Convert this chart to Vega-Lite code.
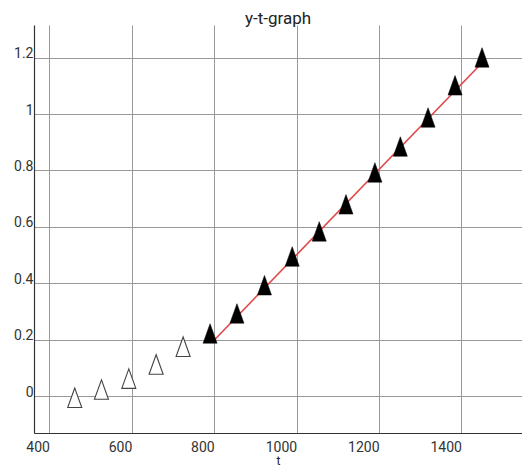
{
  "$schema": "https://vega.github.io/schema/vega-lite/v6.json",
  "autosize": "none",
  "width": 488,
  "height": 408,
  "padding": {"left": 34, "top": 25, "right": 0, "bottom": 33},
  "background": "white",
  "title": {"text": "y-t-graph", "font": "Roboto", "fontSize": 17, "fontWeight": "normal", "color": "#222", "anchor": "middle", "baseline": "alphabetic", "offset": 3, "dy": 19},
  "config": {
    "view": {"stroke": null},
    "axis": {"font": "Roboto", "labelFont": "Roboto", "titleFont": "Roboto", "labelFontSize": 14, "labelColor": "#333", "gridColor": "#999", "gridWidth": 1, "gridOpacity": 1, "domainColor": "#333", "domainWidth": 1.2, "ticks": false, "titleFontWeight": "normal", "titleColor": "#222", "titleFontSize": 12}
  },
  "datasets": {
    "open": [
      {"t": 461.5, "y": -0.006},
      {"t": 526.3, "y": 0.023},
      {"t": 592.7, "y": 0.062},
      {"t": 659, "y": 0.112},
      {"t": 724.5, "y": 0.175}
    ],
    "filled": [
      {"t": 789.9, "y": 0.222},
      {"t": 855.2, "y": 0.293},
      {"t": 922, "y": 0.393},
      {"t": 989.3, "y": 0.495},
      {"t": 1054.9, "y": 0.584},
      {"t": 1119.8, "y": 0.68},
      {"t": 1190, "y": 0.793},
      {"t": 1251.7, "y": 0.885},
      {"t": 1319, "y": 0.988},
      {"t": 1384.5, "y": 1.102},
      {"t": 1450, "y": 1.201}
    ],
    "fit": [
      {"t": 795, "y": 0.191},
      {"t": 1452, "y": 1.185}
    ]
  },
  "layer": [
    {
      "data": {"name": "open"},
      "mark": {"type": "point", "shape": "M0,-1L-0.72,1L0.72,1Z", "size": 380, "filled": true, "fill": "white", "stroke": "#444", "strokeWidth": 1.1, "opacity": 1},
      "encoding": {
        "x": {"field": "t", "type": "quantitative", "scale": {"domain": [362.6, 1547], "nice": false, "zero": false},
              "axis": {"title": "t", "format": "d", "values": [400, 600, 800, 1000, 1200, 1400], "labelAlign": "right", "labelPadding": 7, "titlePadding": 1, "labelFlush": false}},
        "y": {"field": "y", "type": "quantitative", "scale": {"domain": [-0.131, 1.316], "nice": false, "zero": false},
              "axis": {"title": null, "format": "~g", "values": [0, 0.2, 0.4, 0.6, 0.8, 1, 1.2], "labelBaseline": "alphabetic", "labelAlign": "right", "labelPadding": 1, "labelFlush": false}}
      }
    },
    {
      "data": {"name": "fit"},
      "mark": {"type": "line", "color": "#e04848", "strokeWidth": 1.6},
      "encoding": {
        "x": {"field": "t", "type": "quantitative"},
        "y": {"field": "y", "type": "quantitative"}
      }
    },
    {
      "data": {"name": "filled"},
      "mark": {"type": "point", "shape": "M0,-1L-0.72,1L0.72,1Z", "size": 380, "filled": true, "fill": "black", "stroke": "black", "strokeWidth": 0.5, "opacity": 1},
      "encoding": {
        "x": {"field": "t", "type": "quantitative"},
        "y": {"field": "y", "type": "quantitative"}
      }
    }
  ]
}
